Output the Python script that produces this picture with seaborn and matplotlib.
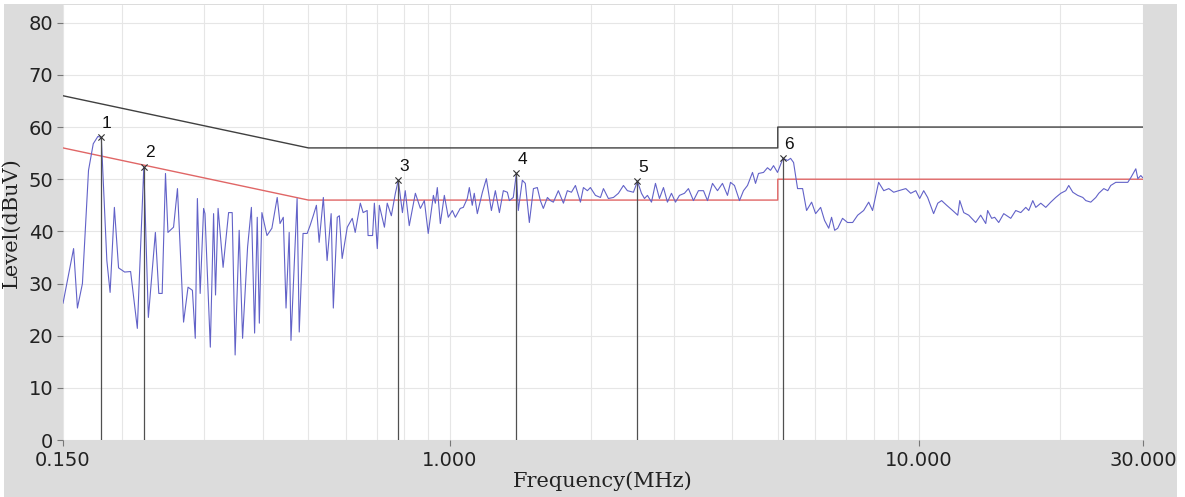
import matplotlib
matplotlib.use("Agg")
import matplotlib.pyplot as plt
from matplotlib.patches import Rectangle
from matplotlib.ticker import FixedLocator, NullFormatter
import numpy as np
import pandas as pd
import seaborn as sns

# ---------------- data ----------------
freq_mhz = [
    0.150, 0.158, 0.161, 0.165, 0.170, 0.174, 0.178, 0.181, 0.186, 0.189, 0.193, 0.197,
    0.203, 0.209, 0.216, 0.223, 0.228, 0.236, 0.240, 0.244, 0.248, 0.251, 0.258, 0.263,
    0.271, 0.277, 0.283, 0.287, 0.290, 0.294, 0.299, 0.301, 0.309, 0.314, 0.317, 0.321,
    0.329, 0.338, 0.344, 0.349, 0.356, 0.362, 0.371, 0.378, 0.384, 0.389, 0.393, 0.398,
    0.408, 0.418, 0.429, 0.435, 0.442, 0.448, 0.455, 0.459, 0.473, 0.478, 0.487, 0.497,
    0.504, 0.512, 0.520, 0.527, 0.538, 0.548, 0.559, 0.565, 0.576, 0.582, 0.590, 0.605,
    0.620, 0.629, 0.645, 0.654, 0.667, 0.670, 0.685, 0.691, 0.701, 0.708, 0.726, 0.736,
    0.751, 0.766, 0.777, 0.793, 0.804, 0.820, 0.845, 0.866, 0.883, 0.900, 0.923, 0.932,
    0.941, 0.955, 0.974, 0.993,
    1.013, 1.028, 1.053, 1.069, 1.090, 1.101, 1.117, 1.128, 1.145, 1.174, 1.197, 1.227,
    1.251, 1.276, 1.301, 1.327, 1.340, 1.366, 1.387, 1.400, 1.428, 1.449, 1.478, 1.508,
    1.537, 1.560, 1.583, 1.615, 1.639, 1.663, 1.704, 1.747, 1.781, 1.817, 1.853, 1.899,
    1.927, 1.965, 1.994,
    2.044, 2.095, 2.126, 2.178, 2.233, 2.288, 2.345, 2.391, 2.463, 2.512, 2.562, 2.600,
    2.638, 2.691, 2.744, 2.798, 2.854, 2.910, 2.968, 3.027, 3.087, 3.163, 3.226, 3.306,
    3.388, 3.473, 3.542, 3.630, 3.720, 3.812, 3.907, 3.965, 4.043, 4.144, 4.226, 4.310,
    4.417, 4.483, 4.549, 4.662, 4.754, 4.825, 4.897, 4.994,
    5.13, 5.246, 5.324, 5.403, 5.51, 5.648, 5.759, 5.903, 6.02, 6.17, 6.29, 6.42,
    6.51, 6.61, 6.71, 6.87, 7.04, 7.22, 7.40, 7.62, 7.81, 7.96, 8.20, 8.41,
    8.62, 8.83, 9.05, 9.37, 9.60, 9.84, 10.03, 10.23, 10.43, 10.74, 10.96, 11.17,
    11.45, 11.79, 12.09, 12.21, 12.45, 12.76, 13.20, 13.53, 13.87, 14.00, 14.28, 14.49,
    14.78, 15.15, 15.68, 16.07, 16.47, 16.88, 17.13, 17.47, 17.73, 18.17, 18.62, 19.08,
    19.55, 20.04, 20.54, 20.84, 21.26, 21.78, 22.33, 22.66, 23.22, 23.80, 24.15, 24.75,
    25.24, 25.61, 26.25, 26.90, 27.84, 28.26, 28.96, 29.25, 29.68, 29.95,
]
level_dbuv = [
    26.2, 36.7, 25.3, 30.0, 51.7, 56.8, 58.2, 58.0, 34.4, 28.3, 44.6, 33.0,
    32.2, 32.3, 21.4, 52.4, 23.5, 39.8, 28.1, 28.1, 51.1, 39.8, 40.8, 48.2,
    22.6, 29.3, 28.7, 19.5, 46.3, 28.1, 44.4, 43.4, 17.8, 43.4, 27.8, 44.4,
    33.1, 43.6, 43.6, 16.3, 40.2, 19.5, 37.0, 44.6, 20.5, 42.7, 22.4, 43.6,
    39.2, 40.6, 46.5, 41.5, 42.7, 25.3, 39.8, 19.1, 46.3, 20.7, 39.6, 39.6,
    41.1, 43.0, 45.0, 37.9, 46.5, 34.4, 43.4, 25.3, 42.7, 43.0, 34.8, 40.8,
    42.5, 39.8, 45.4, 43.6, 44.0, 39.2, 39.2, 45.4, 36.7, 45.0, 40.8, 45.4,
    43.0, 47.3, 49.8, 43.6, 47.8, 41.1, 47.3, 44.4, 45.9, 39.6, 46.9, 45.4,
    48.4, 41.5, 46.9, 42.7,
    44.0, 42.7, 44.4, 44.6, 46.3, 48.4, 45.0, 47.3, 43.4, 47.5, 50.1, 44.0,
    47.8, 43.6, 47.8, 47.5, 45.9, 46.5, 51.1, 44.0, 49.8, 49.2, 41.7, 48.2,
    48.4, 45.9, 44.4, 46.5, 45.9, 45.6, 47.8, 45.4, 47.8, 47.5, 48.8, 45.6,
    48.4, 47.8, 48.4,
    46.9, 46.5, 48.2, 46.3, 46.5, 47.3, 48.8, 47.8, 47.5, 49.6, 47.3, 46.3,
    46.9, 45.6, 49.2, 46.3, 48.4, 45.6, 47.3, 45.6, 46.9, 47.3, 48.2, 45.9,
    47.8, 47.8, 45.9, 49.2, 47.8, 49.2, 46.9, 49.4, 48.8, 45.9, 47.8, 48.8,
    51.3, 49.2, 51.1, 51.3, 52.2, 51.7, 52.6, 51.3,
    54.0, 53.6, 54.0, 53.2, 48.2, 48.2, 44.0, 45.6, 43.4, 44.6, 42.1, 40.6,
    42.7, 40.2, 40.6, 42.5, 41.7, 41.7, 43.1, 44.0, 45.6, 44.0, 49.4, 47.8,
    48.2, 47.5, 47.8, 48.2, 47.3, 47.8, 46.3, 47.8, 46.5, 43.4, 45.4, 45.9,
    45.0, 44.0, 43.1, 45.9, 43.6, 43.1, 41.7, 43.1, 41.5, 44.0, 42.5, 42.7,
    41.7, 43.4, 42.5, 44.0, 43.6, 44.6, 44.0, 45.9, 44.6, 45.4, 44.6, 45.6,
    46.5, 47.3, 47.8, 48.8, 47.5, 46.9, 46.5, 45.9, 45.6, 46.5, 47.3, 48.2,
    47.8, 48.8, 49.4, 49.4, 49.4, 50.3, 52.0, 50.1, 50.7, 50.3,
]

limit_freq = [0.15, 0.5, 5.0, 5.0, 30.0]
qp_limit = [66, 56, 56, 60, 60]
avg_limit = [56, 46, 46, 50, 50]

marker_ids = ["1", "2", "3", "4", "5", "6"]
marker_freq = [0.1805, 0.223, 0.777, 1.387, 2.512, 5.13]
marker_level = [58.0, 52.4, 49.8, 51.1, 49.6, 54.0]

xtick_vals = [0.15, 1.0, 10.0, 30.0]
xtick_labels = ["0.150", "1.000", "10.000", "30.000"]
ytick_vals = [0, 10, 20, 30, 40, 50, 60, 70, 80]

# ---------------- style ----------------
sns.set_style("white")
plt.rcParams["font.family"] = ["DejaVu Sans"]

W, H = 1185, 497
fig = plt.figure(figsize=(W / 100, H / 100), dpi=100, facecolor="white")
fig.patches.append(Rectangle((4 / W, 0), 1173 / W, 1 - 4 / H, transform=fig.transFigure,
                             facecolor="#dcdcdc", edgecolor="none", zorder=-10))
ax = fig.add_axes([63 / W, 57 / H, 1080 / W, 435 / H])
ax.set_facecolor("white")

trace = pd.DataFrame({"Frequency": freq_mhz, "Level": level_dbuv})
limits = pd.DataFrame({"Frequency": limit_freq, "QP": qp_limit, "AV": avg_limit})
marks = pd.DataFrame({"Frequency": marker_freq, "Level": marker_level, "id": marker_ids})

ax.set_xscale("log")

# limit lines
sns.lineplot(data=limits, x="Frequency", y="QP", ax=ax, color="#404040", lw=1.0,
             estimator=None, sort=False, zorder=3)
sns.lineplot(data=limits, x="Frequency", y="AV", ax=ax, color="#e06666", lw=1.0,
             estimator=None, sort=False, zorder=3)
# measured trace
sns.lineplot(data=trace, x="Frequency", y="Level", ax=ax, color="#6262c8", lw=0.8,
             estimator=None, sort=False, zorder=4)

# marker verticals
for f, lv in zip(marker_freq, marker_level):
    ax.vlines(f, 0, lv, color="#505050", lw=0.9, zorder=5)
sns.scatterplot(data=marks, x="Frequency", y="Level", ax=ax, marker="x", s=20,
                color="#333333", linewidth=0.8, zorder=6, legend=False)
for f, lv, t in zip(marker_freq, marker_level, marker_ids):
    ax.annotate(t, (f, lv), xytext=(6, 14), textcoords="offset pixels",
                ha="center", va="center", fontsize=12.5, family="Liberation Sans",
                color="#111111", zorder=7)

ax.set_xlim(0.15, 30)
ax.set_ylim(0, 83.4)

ax.xaxis.set_major_locator(FixedLocator(xtick_vals))
ax.set_xticklabels(xtick_labels)
minor_vals = [m * d for d in (0.1, 1, 10) for m in range(1, 10)]
minor_vals = [v for v in minor_vals if 0.15 < v < 30 and v not in xtick_vals]
ax.xaxis.set_minor_locator(FixedLocator(minor_vals))
ax.xaxis.set_minor_formatter(NullFormatter())
ax.set_yticks(ytick_vals)

ax.grid(True, which="both", color="#e6e6e6", lw=0.8, zorder=0)
ax.set_axisbelow(True)
for s in ax.spines.values():
    s.set_visible(False)

ax.tick_params(axis="both", which="major", direction="out", length=4, width=0.8,
               color="#777777", labelsize=14, labelcolor="#222222", pad=3,
               bottom=True, left=True)
ax.tick_params(axis="x", which="major", pad=4)
ax.tick_params(axis="x", which="minor", length=0)

ax.set_xlabel("Frequency(MHz)", family="DejaVu Serif", fontsize=15, color="#222222")
ax.set_ylabel("Level(dBuV)", family="DejaVu Serif", fontsize=15, color="#222222")
ax.xaxis.set_label_coords(0.5, -0.072)
ax.yaxis.set_label_coords(-0.039, 0.5)

fig.savefig("out.png", dpi=100, facecolor=fig.get_facecolor())
